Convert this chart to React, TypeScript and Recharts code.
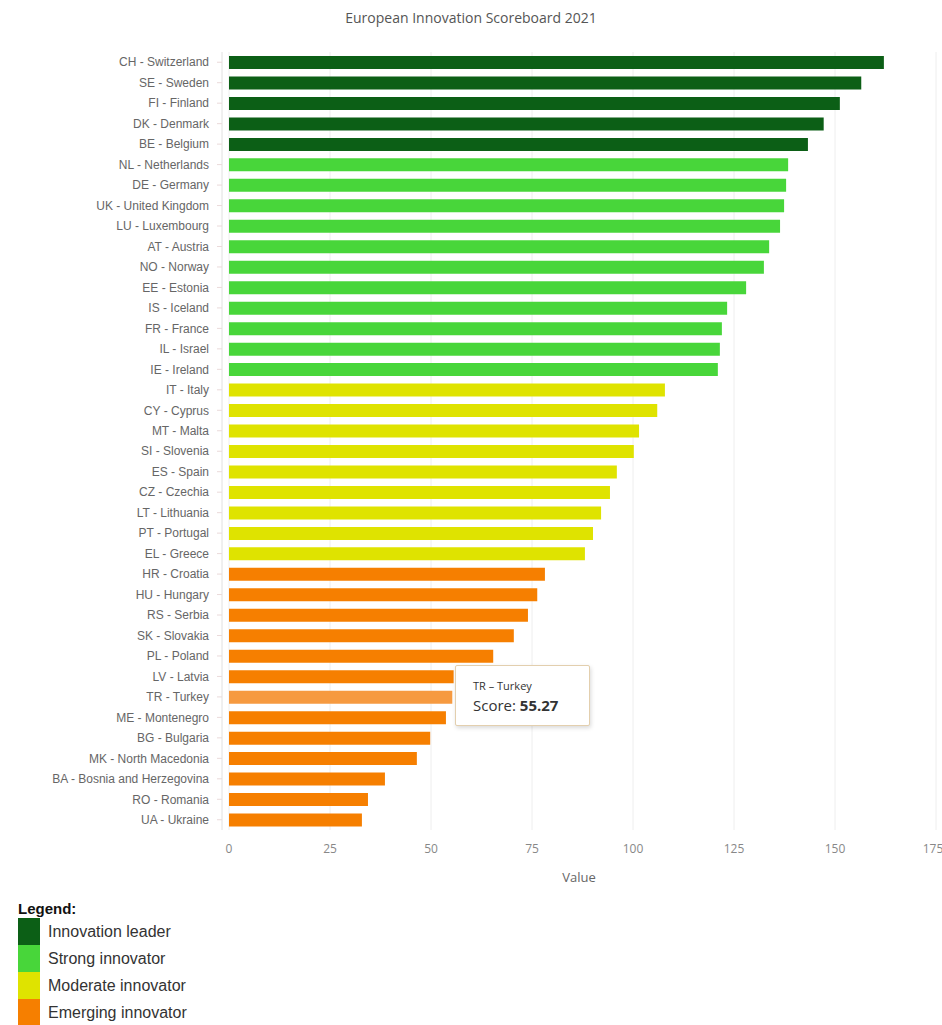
import { BarChart, Bar, XAxis, YAxis, CartesianGrid, Tooltip, Cell } from 'recharts';

const codes = ['CH', 'SE', 'FI', 'DK', 'BE', 'NL', 'DE', 'UK', 'LU', 'AT', 'NO', 'EE', 'IS', 'FR', 'IL', 'IE', 'IT', 'CY', 'MT', 'SI', 'ES', 'CZ', 'LT', 'PT', 'EL', 'HR', 'HU', 'RS', 'SK', 'PL', 'LV', 'TR', 'ME', 'BG', 'MK', 'BA', 'RO', 'UA'];
const countries = ['Switzerland', 'Sweden', 'Finland', 'Denmark', 'Belgium', 'Netherlands', 'Germany', 'United Kingdom', 'Luxembourg', 'Austria', 'Norway', 'Estonia', 'Iceland', 'France', 'Israel', 'Ireland', 'Italy', 'Cyprus', 'Malta', 'Slovenia', 'Spain', 'Czechia', 'Lithuania', 'Portugal', 'Greece', 'Croatia', 'Hungary', 'Serbia', 'Slovakia', 'Poland', 'Latvia', 'Turkey', 'Montenegro', 'Bulgaria', 'North Macedonia', 'Bosnia and Herzegovina', 'Romania', 'Ukraine'];
const scores = [162.1, 156.5, 151.2, 147.2, 143.3, 138.4, 137.9, 137.4, 136.4, 133.7, 132.4, 128.0, 123.3, 122.0, 121.5, 121.0, 107.9, 106.0, 101.5, 100.2, 96.0, 94.3, 92.1, 90.1, 88.1, 78.2, 76.3, 74.0, 70.5, 65.4, 55.6, 55.27, 53.7, 49.8, 46.5, 38.6, 34.4, 32.9];
// 0 leader, 1 strong, 2 moderate, 3 emerging
const groups = [0, 0, 0, 0, 0, 1, 1, 1, 1, 1, 1, 1, 1, 1, 1, 1, 2, 2, 2, 2, 2, 2, 2, 2, 2, 3, 3, 3, 3, 3, 3, 3, 3, 3, 3, 3, 3, 3];
const groupNames = ['Innovation leader', 'Strong innovator', 'Moderate innovator', 'Emerging innovator'];
const groupColors = ['#0c5f16', '#48d63a', '#dfe300', '#f67f00'];
const xTicks = [0, 25, 50, 75, 100, 125, 150, 175];

const data = codes.map((c, i) => ({
  label: `${c} - ${countries[i]}`,
  name: `${c} \u2013 ${countries[i]}`,
  score: scores[i],
  group: groups[i],
}));

function TipBox({ active, payload }: any) {
  if (!active || !payload || !payload.length) return null;
  const p = payload[0].payload;
  return (
    <div
      style={{
        background: '#fff',
        border: '1px solid #e3cfae',
        borderRadius: 2,
        boxShadow: '1px 2px 4px rgba(0,0,0,0.15)',
        padding: '12px 16px 10px 17px',
        width: 100,
        fontFamily: '"Open Sans", sans-serif',
        color: '#333',
      }}
    >
      <div style={{ fontSize: 11, marginBottom: 2 }}>{p.name}</div>
      <div style={{ fontSize: 15 }}>
        Score: <b>{p.score.toFixed(2)}</b>
      </div>
    </div>
  );
}

export default function App() {
  return (
    <div style={{ position: 'relative', width: 942, height: 1025, background: '#fff' }}>
      <style>{'body{margin:0}'}</style>
      <div
        style={{
          position: 'absolute',
          top: 8,
          left: 0,
          width: 942,
          textAlign: 'center',
          fontFamily: '"Open Sans", sans-serif',
          fontSize: 14,
          color: '#555',
        }}
      >
        European Innovation Scoreboard 2021
      </div>
      <div style={{ position: 'absolute', top: 0, left: 0 }}>
        <BarChart
          width={942}
          height={895}
          data={data}
          layout="vertical"
          margin={{ top: 52, right: 6, bottom: 35, left: 0 }}
          barCategoryGap={7}
        >
          <CartesianGrid horizontal={false} stroke="#eeeeee" />
          <XAxis
            type="number"
            domain={[0, 175]}
            ticks={xTicks}
            axisLine={false}
            tickLine={false}
            tickMargin={8}
            tick={{ fill: '#888', fontSize: 12, fontFamily: '"Open Sans", sans-serif' }}
            padding={{ left: 7, right: 0 }}
            label={{ value: 'Value', position: 'insideBottom', offset: -22, fill: '#666', fontSize: 13, fontFamily: '"Open Sans", sans-serif' }}
          />
          <YAxis
            type="category"
            dataKey="label"
            width={222}
            interval={0}
            axisLine={{ stroke: '#e8e8e8' }}
            tickLine={{ stroke: '#eadada' }}
            tickSize={5}
            tickMargin={8}
            tick={{ fill: '#666', fontSize: 12, fontFamily: '"Liberation Sans", Arial, sans-serif' }}
          />
          <Tooltip
            content={<TipBox />}
            defaultIndex={31}
            cursor={false}
            isAnimationActive={false}
            position={{ x: 455, y: 665 }}
          />
          <Bar dataKey="score" barSize={13} isAnimationActive={false} activeBar={{ fill: '#f69a40' }}>
            {data.map((d, i) => (
              <Cell key={i} fill={groupColors[d.group]} />
            ))}
          </Bar>
        </BarChart>
      </div>
      <div
        style={{
          position: 'absolute',
          top: 900,
          left: 18,
          fontFamily: '"Liberation Sans", Arial, sans-serif',
        }}
      >
        <div style={{ fontSize: 15, fontWeight: 'bold', color: '#111', height: 18, lineHeight: '18px' }}>Legend:</div>
        {groupNames.map((g, i) => (
          <div key={g} style={{ display: 'flex', alignItems: 'center', height: 27 }}>
            <div style={{ width: 22, height: 27, background: groupColors[i] }} />
            <span style={{ marginLeft: 8, fontSize: 16, color: '#333' }}>{g}</span>
          </div>
        ))}
      </div>
    </div>
  );
}
